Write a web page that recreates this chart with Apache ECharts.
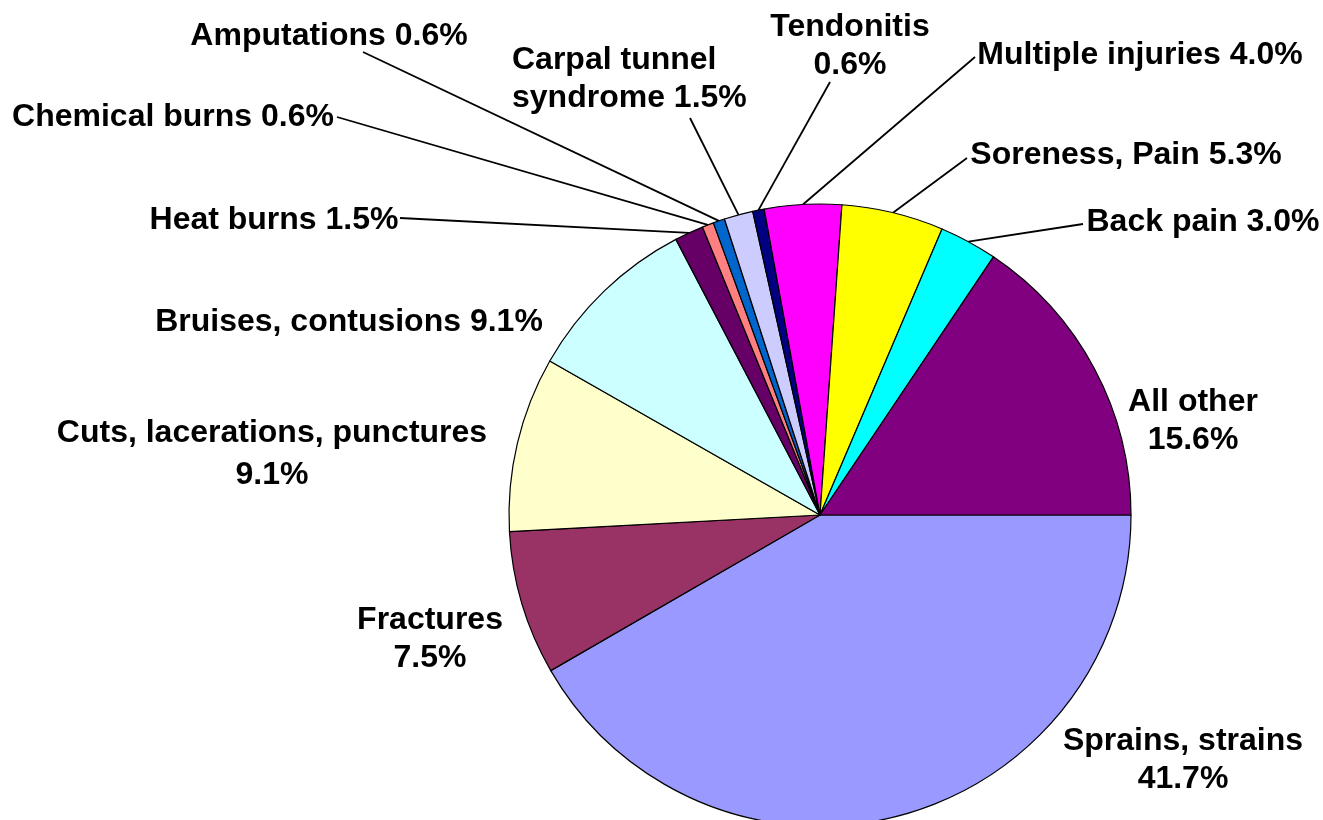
<!DOCTYPE html>
<html>
<head>
<meta charset="utf-8">
<script src="https://cdn.jsdelivr.net/npm/echarts@6/dist/echarts.min.js"></script>
<style>
html,body{margin:0;padding:0;background:#fff;}
#chart{width:1323px;height:820px;}
</style>
</head>
<body>
<div id="chart"></div>
<script>
// ---- data ----
var categories = [
  'Sprains, strains', 'Fractures', 'Cuts, lacerations, punctures', 'Bruises, contusions',
  'Heat burns', 'Chemical burns', 'Amputations', 'Carpal tunnel\nsyndrome', 'Tendonitis',
  'Multiple injuries', 'Soreness, Pain', 'Back pain', 'All other'
];
var values = [41.7, 7.5, 9.1, 9.1, 1.5, 0.6, 0.6, 1.5, 0.6, 4.0, 5.3, 3.0, 15.6];
var valueOnNewLine = [true, true, true, false, false, false, false, false, true, false, false, false, true];
var showLeader = [false, false, false, false, true, true, true, true, true, true, true, true, false];

// ---- styles / placement ----
var colors = ['#9999FF', '#993366', '#FFFFCC', '#CCFFFF', '#660066', '#FF8080', '#0066CC',
  '#CCCCFF', '#000080', '#FF00FF', '#FFFF00', '#00FFFF', '#800080'];
// label anchor [x, y, align]
var labelPlace = [
  [1183, 760, 'center'], [430, 639, 'center'], [272, 454, 'center'], [349, 322, 'center'],
  [274, 220, 'center'], [173, 117, 'center'], [329, 36, 'center'], [512, 79, 'left'],
  [850, 46, 'center'], [1140, 55, 'center'], [1126, 155, 'center'], [1203, 222, 'center'],
  [1193, 421, 'center']
];
// where each leader line meets its label (null = no leader)
var leaderEnd = [
  null, null, null, null,
  [400, 218], [337, 117], [363, 52], [690, 118],
  [830, 82], [975, 57], [967, 158], [1083, 224],
  null
];

var chart = echarts.init(document.getElementById('chart'), null, {renderer: 'canvas'});
var data = categories.map(function (c, i) {
  var item = {
    name: c,
    value: values[i],
    itemStyle: {color: colors[i]},
    labelLine: {show: showLeader[i]}
  };
  if (i === 2) item.label = {lineHeight: 42};
  return item;
});

chart.setOption({
  animation: false,
  backgroundColor: '#fff',
  series: [{
    type: 'pie',
    center: [820, 515],
    radius: 311,
    startAngle: 0,
    clockwise: true,
    avoidLabelOverlap: false,
    data: data,
    itemStyle: {borderColor: '#000', borderWidth: 1.2},
    label: {
      show: true,
      position: 'outside',
      color: '#000',
      fontFamily: '"Liberation Sans", Arial, sans-serif',
      fontWeight: 'bold',
      fontSize: 32,
      lineHeight: 38,
      formatter: function (p) {
        var i = p.dataIndex;
        return categories[i] + (valueOnNewLine[i] ? '\n' : ' ') + values[i].toFixed(1) + '%';
      }
    },
    labelLine: {
      show: true,
      length: 0,
      length2: 0,
      smooth: false,
      lineStyle: {color: '#000', width: 1.8}
    },
    emphasis: {disabled: true},
    labelLayout: function (p) {
      var i = p.dataIndex;
      var lp = labelPlace[i];
      var out = {x: lp[0], y: lp[1], align: lp[2], verticalAlign: 'middle'};
      if (leaderEnd[i] && p.labelLinePoints) {
        var s = p.labelLinePoints[0];
        out.labelLinePoints = [[s[0], s[1]], leaderEnd[i].slice()];
      }
      return out;
    }
  }]
});
</script>
</body>
</html>
